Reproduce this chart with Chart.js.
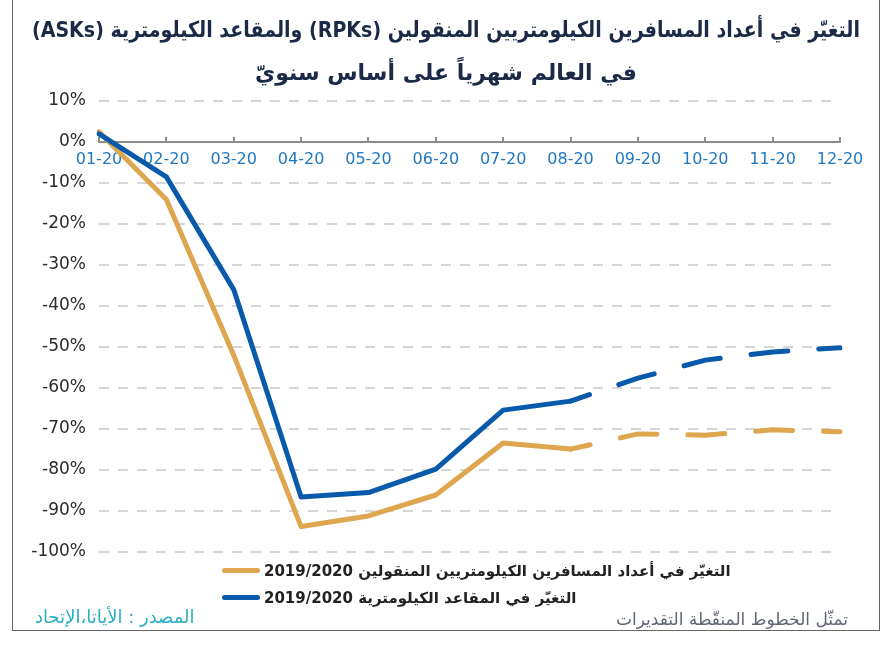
<!DOCTYPE html>
<html lang="ar">
<head>
<meta charset="utf-8">
<title>RPKs / ASKs 2020</title>
<script src="https://cdn.jsdelivr.net/npm/chart.js@4.4.1/dist/chart.umd.min.js"></script>
<style>
  html, body { margin: 0; padding: 0; background: #fff; }
  #wrap { position: relative; width: 891px; height: 646px; overflow: hidden; }
  #frame {
    position: absolute; left: 12px; top: -2px; width: 868px; height: 633px;
    border: 1px solid #666; border-top: none; box-sizing: border-box; pointer-events: none;
  }
  #legend { position: absolute; left: 222px; top: 557px; font-family: "DejaVu Sans", sans-serif; }
  .row { display: flex; align-items: center; height: 27px; }
  .swatch { width: 38px; height: 5px; border-radius: 3px; margin-right: 4px; }
  .row span.txt { font-size: 15px; font-weight: bold; color: #222; white-space: nowrap; }
  .note { position: absolute; font-family: "DejaVu Sans", sans-serif; white-space: nowrap; }
  #source { left: 35px; top: 606px; font-size: 18px; color: #2aaec4; }
  #estimates { right: 43px; top: 609px; font-size: 17px; color: #5f6673; }
</style>
</head>
<body>
<div id="wrap">
  <canvas id="chart"></canvas>
  <div id="frame"></div>
  <div id="legend"></div>
  <div class="note" id="source" dir="rtl">المصدر : الأياتا،الإتحاد</div>
  <div class="note" id="estimates" dir="rtl">تمثّل الخطوط المنقّطة التقديرات</div>
</div>
<script>
// months of 2020
const months = ['01-20', '02-20', '03-20', '04-20', '05-20', '06-20',
                '07-20', '08-20', '09-20', '10-20', '11-20', '12-20'];

// year-on-year change, %
const rpkChange = [2.5, -14, -52, -93.8, -91.2, -86.1, -73.4, -74.9, -71.2, -71.5, -70.2, -70.7];
const askChange = [2, -8.5, -36, -86.6, -85.5, -79.8, -65.4, -63.2, -57.6, -53.2, -51.2, -50.2];

// from this month on the values are estimates (dashed)
const firstEstimate = 7;

const rpkLabel = 'التغيّر في أعداد المسافرين الكيلومتريين المنقولين 2019/2020';
const askLabel = 'التغيّر في المقاعد الكيلومترية 2019/2020';

const titleLines = [
  'التغيّر في أعداد المسافرين الكيلومتريين المنقولين (RPKs) والمقاعد الكيلومترية (ASKs)',
  'في العالم شهرياً على أساس سنويّ'
];

const GOLD = '#dea64f';
const BLUE = '#0a5aab';

// RLE ... PDF so the canvas lays the Arabic out right-to-left
const rtl = s => '\u202B' + s + '\u202C';

const dashed = ctx => ctx.p0DataIndex >= firstEstimate ? [37, 31] : undefined;

const datasets = [
  { label: askLabel, data: askChange, borderColor: BLUE },
  { label: rpkLabel, data: rpkChange, borderColor: GOLD }
].map(d => ({
  ...d,
  borderWidth: 5,
  borderCapStyle: 'round',
  borderJoinStyle: 'round',
  borderDashOffset: 17,
  pointRadius: 0,
  tension: 0,
  segment: { borderDash: dashed }
}));

new Chart(document.getElementById('chart'), {
  type: 'line',
  data: { labels: months, datasets },
  options: {
    responsive: true,
    maintainAspectRatio: false,
    animation: false,
    layout: { padding: { left: 32, right: 31, top: 0, bottom: 94 } },
    plugins: {
      legend: { display: false },
      tooltip: { enabled: false },
      title: {
        display: true,
        text: titleLines.map(rtl),
        color: '#1b2a47',
        font: { family: 'DejaVu Sans', size: 22, weight: 'bold', lineHeight: '43px' },
        padding: { top: 10, bottom: 5 }
      }
    },
    scales: {
      x: {
        position: { y: 0 },
        offset: false,
        grid: { drawOnChartArea: false, drawTicks: true, tickLength: -6, color: '#8c8c8c', lineWidth: 2 },
        border: { display: true, color: '#8c8c8c', width: 2 },
        ticks: {
          color: '#1f78c1',
          font: { family: 'DejaVu Sans', size: 16 },
          padding: 14,
          maxRotation: 0,
          autoSkip: false
        }
      },
      y: {
        min: -100,
        max: 10,
        afterFit: scale => { scale.width = 67; },
        grid: {
          drawTicks: false,
          lineWidth: 2,
          color: ctx => ctx.tick && ctx.tick.value === 0 ? 'rgba(0,0,0,0)' : '#d6d6d6'
        },
        border: { display: false, dash: [10, 9] },
        ticks: {
          stepSize: 10,
          padding: 13,
          color: '#2b2b2b',
          font: { family: 'DejaVu Sans', size: 17 },
          callback: v => v + '%'
        }
      },
      // empty spacer on the right so the title centres on the page
      pad: {
        type: 'linear',
        position: 'right',
        afterFit: scale => { scale.width = 20; },
        grid: { display: false },
        border: { display: false },
        ticks: { display: false }
      }
    }
  }
});

// legend: gold first, then blue
const legend = document.getElementById('legend');
[datasets[1], datasets[0]].forEach(d => {
  const row = document.createElement('div');
  row.className = 'row';
  row.innerHTML = `<span class="swatch" style="background:${d.borderColor}"></span>` +
                  `<span class="txt" dir="rtl">${d.label}</span>`;
  legend.appendChild(row);
});
</script>
</body>
</html>
